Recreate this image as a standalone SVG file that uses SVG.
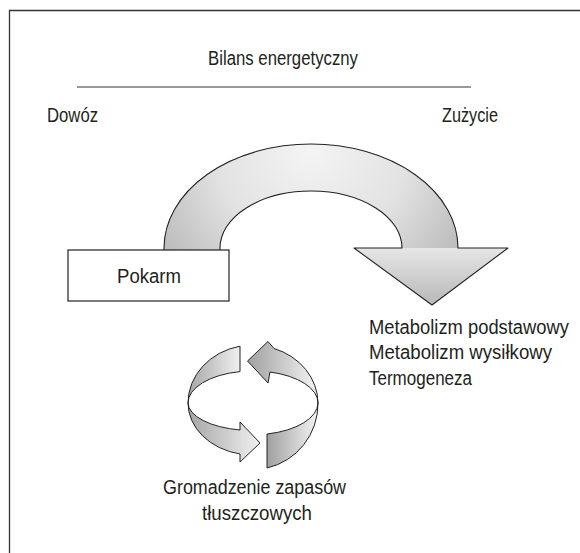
<svg xmlns="http://www.w3.org/2000/svg" width="580" height="553" viewBox="0 0 580 553">
<defs>
<style>
text{font-family:"Liberation Sans",Arial,sans-serif;font-size:19.5px;fill:#231f20}
.outline{fill:none;stroke:#222;stroke-width:1.1;stroke-linejoin:round}
.ring{stroke:#222;stroke-width:1;stroke-linejoin:round}
</style>
<radialGradient id="shaftG" cx="311" cy="150" r="175" gradientUnits="userSpaceOnUse">
<stop offset="0" stop-color="#f4f4f4"/>
<stop offset="0.55" stop-color="#e2e2e2"/>
<stop offset="1" stop-color="#bcbcbc"/>
</radialGradient>
<linearGradient id="headG" x1="0" y1="0" x2="0" y2="1">
<stop offset="0" stop-color="#e6e6e6"/>
<stop offset="1" stop-color="#b8b8b8"/>
</linearGradient>
<linearGradient id="ringL" x1="0" y1="0" x2="1" y2="0">
<stop offset="0" stop-color="#a6a6a6"/>
<stop offset="1" stop-color="#f0f0f0"/>
</linearGradient>
<linearGradient id="ringR" x1="0" y1="0" x2="1" y2="0">
<stop offset="0" stop-color="#a0a0a0"/>
<stop offset="1" stop-color="#f4f4f4"/>
</linearGradient>
</defs>
<rect width="580" height="553" fill="#fff"/>
<path d="M9.5,553 L9.5,10.5 L580,10.5" fill="none" stroke="#333" stroke-width="1.3"/>

<g id="header">
<text x="208" y="65" textLength="150" lengthAdjust="spacingAndGlyphs">Bilans energetyczny</text>
<line x1="77" y1="87" x2="471" y2="87" stroke="#999" stroke-width="2"/>
<text x="47" y="122" textLength="51" lengthAdjust="spacingAndGlyphs">Dowóz</text>
<text x="442" y="122" textLength="56" lengthAdjust="spacingAndGlyphs">Zużycie</text>
</g>

<g id="connectors">
<g id="big-arrow">
<path d="M164,252 L164,248 A147,104 0 0 1 458,248 L402,248 A91,57 0 0 0 220,248 L220,252 Z" fill="url(#shaftG)"/>
<path d="M354,248 L508,248 L432,305 Z" fill="url(#headG)"/>
<path class="outline" d="M164,252 L164,248 A147,104 0 0 1 458,248 L508,248 L432,305 L354,248 L402,248 A91,57 0 0 0 220,248 L220,252"/>
</g>
<g id="cycle">
<path class="ring" fill="url(#ringL)" d="M240,346.2 A65,58 0 0 0 188,403 A65,32 0 0 1 240,371.6 Z"/>
<path class="ring" fill="url(#ringR)" d="M318,403 A65,58 0 0 0 274,348.5 L268,341.5 L247.5,361 L268,383 L270,372 A65,32 0 0 1 318,403 Z"/>
<path class="ring" fill="url(#ringL)" d="M188,403 A65,28 0 0 0 240,430 L240,422 L260,443 L240,462 L240,454 A65,52 0 0 1 188,403 Z"/>
<path class="ring" fill="url(#ringR)" d="M267,434 A65,32 0 0 0 318,403 A65,66 0 0 1 267,468 Z"/>
</g>
</g>

<g id="pokarm">
<rect x="68" y="250" width="161" height="51" fill="#fff" stroke="#222" stroke-width="1.2"/>
<text x="117" y="283" textLength="64" lengthAdjust="spacingAndGlyphs">Pokarm</text>
</g>

<g id="zuzycie-list">
<text x="369" y="334" textLength="200" lengthAdjust="spacingAndGlyphs">Metabolizm podstawowy</text>
<text x="369" y="359" textLength="183" lengthAdjust="spacingAndGlyphs">Metabolizm wysiłkowy</text>
<text x="369" y="385" textLength="103" lengthAdjust="spacingAndGlyphs">Termogeneza</text>
</g>

<g id="gromadzenie">
<text x="163" y="494" textLength="183" lengthAdjust="spacingAndGlyphs">Gromadzenie zapasów</text>
<text x="202" y="520" textLength="110" lengthAdjust="spacingAndGlyphs">tłuszczowych</text>
</g>
</svg>
